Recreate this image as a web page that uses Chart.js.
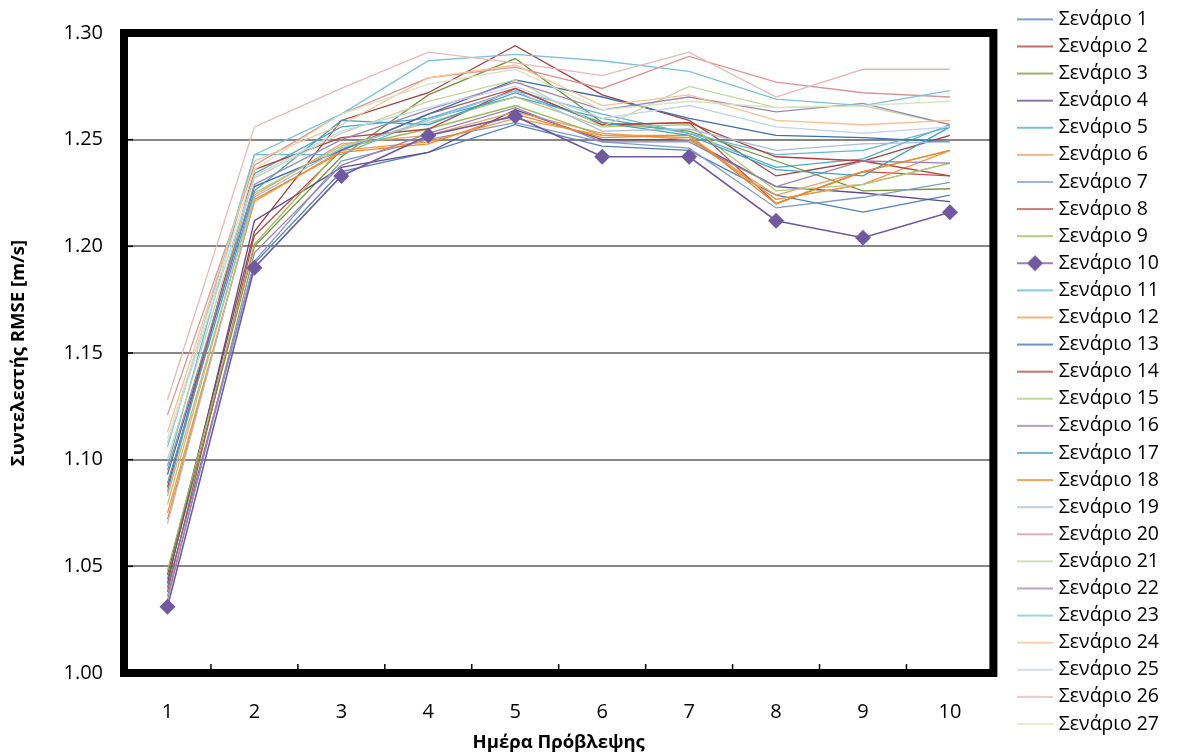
<!DOCTYPE html>
<html><head><meta charset="utf-8">
<script src="https://cdn.jsdelivr.net/npm/chart.js@4/dist/chart.umd.min.js"></script>
<style>html,body{margin:0;padding:0;background:#fff;}#wrap{width:1177px;height:756px;position:relative}</style>
</head><body><div id="wrap"><canvas id="c"></canvas></div>
<script>
const days = ['1','2','3','4','5','6','7','8','9','10'];
const yTickValues = [1.00, 1.05, 1.10, 1.15, 1.20, 1.25, 1.30];
const yTitle = 'Συντελεστής RMSE [m/s]';
const xTitle = 'Ημέρα Πρόβλεψης';

const s1  = [1.040, 1.192, 1.235, 1.244, 1.257, 1.247, 1.245, 1.224, 1.216, 1.224];
const s2  = [1.046, 1.207, 1.259, 1.272, 1.294, 1.271, 1.259, 1.233, 1.240, 1.252];
const s3  = [1.044, 1.200, 1.242, 1.271, 1.288, 1.258, 1.254, 1.240, 1.226, 1.227];
const s4  = [1.042, 1.212, 1.237, 1.244, 1.264, 1.250, 1.250, 1.228, 1.225, 1.221];
const s5  = [1.085, 1.234, 1.256, 1.260, 1.270, 1.260, 1.253, 1.237, 1.241, 1.257];
const s6  = [1.083, 1.224, 1.248, 1.252, 1.263, 1.253, 1.250, 1.224, 1.235, 1.245];
const s7  = [1.036, 1.193, 1.240, 1.250, 1.258, 1.249, 1.246, 1.218, 1.223, 1.230];
const s8  = [1.038, 1.205, 1.245, 1.262, 1.274, 1.257, 1.258, 1.220, 1.235, 1.233];
const s9  = [1.048, 1.201, 1.246, 1.255, 1.266, 1.252, 1.251, 1.222, 1.229, 1.239];
const s10 = [1.031, 1.190, 1.233, 1.252, 1.261, 1.242, 1.242, 1.212, 1.204, 1.216];
const s11 = [1.097, 1.243, 1.243, 1.260, 1.273, 1.262, 1.253, 1.243, 1.245, 1.256];
const s12 = [1.075, 1.221, 1.245, 1.249, 1.260, 1.252, 1.252, 1.222, 1.229, 1.245];
const s13 = [1.093, 1.228, 1.245, 1.262, 1.278, 1.270, 1.260, 1.252, 1.251, 1.249];
const s14 = [1.087, 1.236, 1.251, 1.255, 1.274, 1.257, 1.258, 1.242, 1.240, 1.233];
const s15 = [1.079, 1.225, 1.247, 1.258, 1.270, 1.256, 1.257, 1.226, 1.229, 1.239];
const s16 = [1.034, 1.197, 1.238, 1.253, 1.265, 1.249, 1.249, 1.228, 1.240, 1.239];
const s17 = [1.089, 1.226, 1.259, 1.257, 1.272, 1.258, 1.252, 1.236, 1.233, 1.256];
const s18 = [1.072, 1.222, 1.244, 1.248, 1.262, 1.251, 1.252, 1.220, 1.235, 1.245];
const s19 = [1.070, 1.223, 1.246, 1.259, 1.273, 1.254, 1.255, 1.245, 1.248, 1.249];
const s20 = [1.121, 1.238, 1.262, 1.279, 1.284, 1.274, 1.289, 1.277, 1.272, 1.270];
const s21 = [1.100, 1.232, 1.253, 1.268, 1.278, 1.256, 1.275, 1.265, 1.266, 1.257];
const s22 = [1.095, 1.229, 1.250, 1.264, 1.277, 1.264, 1.270, 1.263, 1.267, 1.257];
const s23 = [1.106, 1.243, 1.262, 1.287, 1.290, 1.287, 1.282, 1.269, 1.266, 1.273];
const s24 = [1.113, 1.240, 1.257, 1.279, 1.285, 1.266, 1.271, 1.259, 1.257, 1.259];
const s25 = [1.108, 1.233, 1.254, 1.265, 1.275, 1.260, 1.266, 1.256, 1.253, 1.256];
const s26 = [1.128, 1.256, 1.274, 1.291, 1.286, 1.280, 1.291, 1.270, 1.283, 1.283];
const s27 = [1.110, 1.236, 1.262, 1.276, 1.283, 1.264, 1.268, 1.265, 1.266, 1.268];

const seriesValues = [s1,s2,s3,s4,s5,s6,s7,s8,s9,s10,s11,s12,s13,s14,s15,s16,s17,s18,s19,s20,s21,s22,s23,s24,s25,s26,s27];
const seriesNames = seriesValues.map((_, i) => 'Σενάριο ' + (i + 1));
const seriesColors = ['#4F81BD','#A0403D','#77933C','#5F4B8B','#4BACC6','#E9A06B','#7E9CC8','#C0504D','#9BBB59','#7059A0',
  '#5FB9D0','#F79646','#3C6EB4','#B9403C','#AFCB7A','#9983B5','#3FA3BF','#F7861F','#A9BDDC','#D99694',
  '#C3D69B','#9C87BA','#7CC3D7','#FAC090','#C6D3EA','#E6B9B8','#D7E4BD'];
const markerIndex = 9;
const FONT = "'Open Sans', 'DejaVu Sans', sans-serif";

function legendSample(color, withMarker) {
  const c = document.createElement('canvas');
  c.width = 36; c.height = 18;
  const g = c.getContext('2d');
  g.strokeStyle = color; g.lineWidth = 1.6;
  g.beginPath(); g.moveTo(0, 9); g.lineTo(36, 9); g.stroke();
  if (withMarker) {
    g.fillStyle = color;
    g.beginPath(); g.moveTo(18, 1); g.lineTo(26, 9); g.lineTo(18, 17); g.lineTo(10, 9); g.closePath(); g.fill();
  }
  return c;
}

const datasets = seriesValues.map((vals, i) => ({
  label: seriesNames[i],
  data: vals,
  borderColor: seriesColors[i],
  backgroundColor: seriesColors[i],
  borderWidth: i === markerIndex ? 1.6 : 1.3,
  pointRadius: i === markerIndex ? 8 : 0,
  pointHoverRadius: i === markerIndex ? 8 : 0,
  pointStyle: 'rectRot',
  pointBorderWidth: 0,
  tension: 0,
  fill: false,
  order: i === markerIndex ? 0 : 100 - i
}));

const frame = {
  id: 'frame',
  afterDatasetsDraw(chart) {
    const {ctx, chartArea: a, scales} = chart;
    ctx.save();
    ctx.strokeStyle = '#000';
    ctx.lineWidth = 1.5;
    const xs = scales.x;
    for (let i = 0; i <= days.length; i++) {
      const px = xs.getPixelForValue(i - 0.5);
      ctx.beginPath(); ctx.moveTo(px, a.bottom); ctx.lineTo(px, a.bottom - 9); ctx.stroke();
    }
    const ys = scales.y;
    yTickValues.forEach(v => {
      const py = ys.getPixelForValue(v);
      ctx.beginPath(); ctx.moveTo(a.left, py); ctx.lineTo(a.left + 9, py); ctx.stroke();
    });
    ctx.lineWidth = 8;
    ctx.strokeRect(a.left, a.top, a.right - a.left, a.bottom - a.top);
    ctx.restore();
  }
};

new Chart(document.getElementById('c'), {
  type: 'line',
  data: { labels: days, datasets },
  plugins: [frame],
  options: {
    responsive: true,
    maintainAspectRatio: false,
    animation: false,
    devicePixelRatio: 1,
    layout: { padding: { right: 8, top: 2 } },
    plugins: {
      tooltip: { enabled: false },
      legend: {
        position: 'right',
        align: 'start',
        labels: {
          usePointStyle: true,
          pointStyleWidth: 28,
          padding: 7.6,
          color: '#000',
          font: { family: FONT, size: 19.5 },
          generateLabels(chart) {
            return chart.data.datasets.map((ds, i) => ({
              text: ds.label,
              fillStyle: ds.borderColor,
              strokeStyle: ds.borderColor,
              lineWidth: 0,
              pointStyle: legendSample(ds.borderColor, i === markerIndex),
              hidden: false,
              datasetIndex: i
            }));
          }
        }
      }
    },
    scales: {
      x: {
        type: 'category',
        offset: true,
        grid: { display: false, offset: true },
        border: { display: false },
        ticks: { color: '#000', font: { family: FONT, size: 20 }, padding: 19, maxRotation: 0 },
        title: { display: true, text: xTitle, color: '#000', font: { family: FONT, size: 18.5, weight: 'bold' }, padding: { top: 0, bottom: 2 } },
        afterFit(s) { s.height = 83; }
      },
      xTop: {
        type: 'category',
        position: 'top',
        display: true,
        grid: { display: false },
        border: { display: false },
        ticks: { display: false },
        afterFit(s) { s.height = 31; }
      },
      y: {
        min: 1.0, max: 1.3,
        afterBuildTicks(s) { s.ticks = yTickValues.map(v => ({ value: v })); },
        grid: { color: '#868686', lineWidth: 2, drawTicks: false },
        border: { display: false },
        ticks: { color: '#000', font: { family: FONT, size: 20 }, padding: 21, callback: v => v.toFixed(2) },
        title: { display: true, text: yTitle, color: '#000', font: { family: FONT, size: 18.5, weight: 'bold' }, padding: { top: 8, bottom: 0 } },
        afterFit(s) { s.width = 124; }
      },
      yRight: {
        position: 'right',
        display: true,
        grid: { display: false },
        border: { display: false },
        ticks: { display: false },
        afterFit(s) { s.width = 20; }
      }
    }
  }
});
</script>
</body></html>
